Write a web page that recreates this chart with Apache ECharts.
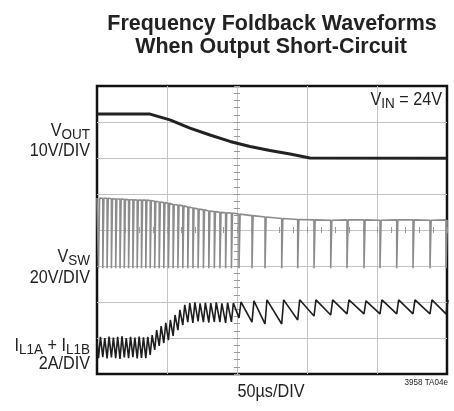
<!DOCTYPE html>
<html><head><meta charset="utf-8">
<script src="https://cdn.jsdelivr.net/npm/echarts@6/dist/echarts.min.js"></script>
<style>html,body{margin:0;padding:0;background:#fff}#c{width:454px;height:411px}</style>
</head><body><div id="c"></div>
<script>
// ---- Data (x in µs, 50 µs/div; y in screen divisions 0..8) ----
const vOutT = [0, 37.9, 52.1, 66.4, 80.7, 95, 109.3, 123.6, 137.9, 152.1, 250];
const vOutV = [7.22, 7.22, 7.06, 6.83, 6.64, 6.46, 6.32, 6.21, 6.11, 6.00, 5.99];

// switching pulse instants (µs)
const pulseTimes = [1.07, 4.14, 7.21, 10.29, 13.36, 16.43, 19.50, 22.57, 25.64, 28.71, 31.79, 34.86,
  38.0, 41.21, 44.43, 47.71, 51.0, 54.36, 57.79, 61.29, 64.86, 68.5, 72.21, 76.0, 79.86, 83.79, 87.79, 91.86, 96.0,
  101.43, 110.71, 120.0,
  131.93, 143.36, 155.0, 166.93, 178.57, 190.71, 202.14, 214.07, 225.71, 237.86, 249.29];
const vswTop = [4.89, 4.88, 4.88, 4.87, 4.86, 4.86, 4.85, 4.84, 4.84, 4.83, 4.83, 4.83,
  4.82, 4.80, 4.78, 4.76, 4.74, 4.71, 4.69, 4.67, 4.64, 4.61, 4.58, 4.56, 4.53, 4.51, 4.49, 4.48, 4.47,
  4.44, 4.40, 4.36,
  4.32, 4.29, 4.28, 4.27, 4.28, 4.28, 4.27, 4.28, 4.28, 4.27, 4.28];
const vswBottom = 2.94;
const ilStart = 0.9;
const ilTrough = [0.44, 0.47, 0.43, 0.46, 0.44, 0.42, 0.46, 0.44, 0.47, 0.43, 0.45, 0.44,
  0.53, 0.67, 0.78, 0.86, 0.94, 1.06, 1.22, 1.36,
  1.44, 1.42, 1.46, 1.44, 1.43, 1.45, 1.44, 1.42, 1.45,
  1.56, 1.44, 1.39,
  1.39, 1.50, 1.61, 1.64, 1.67, 1.67, 1.67, 1.67, 1.67, 1.67, 1.67];
const ilPeak = [1.03, 1.00, 1.04, 1.01, 1.03, 1.05, 1.00, 1.03, 1.01, 1.04, 1.02, 1.03,
  1.08, 1.22, 1.33, 1.42, 1.50, 1.64, 1.78, 1.92,
  1.97, 1.99, 1.96, 1.98, 1.97, 1.99, 1.96, 1.98, 1.97,
  2.00, 2.03, 2.06,
  2.06, 2.06, 2.06, 2.06, 2.06, 2.03, 2.06, 2.06, 2.06, 2.06, 2.06];

// ---- build series data ----
const VSW_W = 0.8, IL_RISE = 1.4;
const vOutData = vOutT.map((t, i) => [t, vOutV[i]]);
const vswData = [[0, vswTop[0]]];
pulseTimes.forEach((t, i) => {
  vswData.push([t, vswTop[i]], [t, vswBottom], [t + VSW_W, vswBottom], [t + VSW_W, vswTop[i]]);
});
vswData.push([250, vswTop[vswTop.length - 1]]);
const ilData = [[0, ilStart]];
pulseTimes.forEach((t, i) => { ilData.push([t, ilTrough[i]], [t + IL_RISE, ilPeak[i]]); });

const FF = '"Liberation Sans", Arial, sans-serif';
const TXT = '#222';
function lbl(x, y, text, rich, align, size, sx) {
  return { type: 'text', x: x, y: y, scaleX: sx, z: 10,
    style: { text: text, rich: rich, align: align, textAlign: align, verticalAlign: 'middle', textVerticalAlign: 'middle',
      fill: TXT, fontFamily: FF, fontSize: size } };
}
const sub = {
  m: { fontSize: 18, fontFamily: FF, lineHeight: 22, verticalAlign: 'middle', color: TXT },
  s: { fontSize: 15, fontFamily: FF, lineHeight: 14, verticalAlign: 'bottom', color: TXT }
};

const chart = echarts.init(document.getElementById('c'), null, { renderer: 'canvas' });
const hidden = { axisLine: { show: false, onZero: false }, axisLabel: { show: false }, splitLine: { show: false } };
const gridSplit = { show: true, showMinLine: false, showMaxLine: false, lineStyle: { color: '#c4c4c4', width: 1 } };
chart.setOption({
  animation: false,
  backgroundColor: '#fff',
  grid: { left: 97, top: 86, width: 350, height: 288, show: true, borderColor: '#111', borderWidth: 2.5 },
  xAxis: [
    { type: 'value', min: 0, max: 250, interval: 50, axisLine: { show: false, onZero: false }, axisTick: { show: false },
      axisLabel: { show: false }, splitLine: gridSplit },
    Object.assign({ type: 'value', min: 0, max: 250, interval: 10, position: 'bottom', offset: -144,
      axisTick: { show: true, inside: true, length: 3, lineStyle: { color: '#999' } } }, hidden),
    Object.assign({ type: 'value', min: 0, max: 250, interval: 10, position: 'bottom', offset: -144,
      axisTick: { show: true, inside: false, length: 3, lineStyle: { color: '#999' } } }, hidden)
  ],
  yAxis: [
    { type: 'value', min: 0, max: 8, interval: 1, axisLine: { show: false, onZero: false }, axisTick: { show: false },
      axisLabel: { show: false }, splitLine: gridSplit },
    Object.assign({ type: 'value', min: 0, max: 8, interval: 0.2, position: 'left', offset: -140,
      axisTick: { show: true, inside: true, length: 3, lineStyle: { color: '#999' } } }, hidden),
    Object.assign({ type: 'value', min: 0, max: 8, interval: 0.2, position: 'left', offset: -140,
      axisTick: { show: true, inside: false, length: 3, lineStyle: { color: '#999' } } }, hidden)
  ],
  series: [
    { type: 'line', name: 'VSW', data: vswData, xAxisIndex: 0, yAxisIndex: 0, showSymbol: false, symbol: 'none',
      lineStyle: { color: '#8c8c8c', width: 1.6 }, z: 3 },
    { type: 'line', name: 'IL', data: ilData, xAxisIndex: 0, yAxisIndex: 0, showSymbol: false, symbol: 'none',
      lineStyle: { color: '#1e1e1e', width: 1.6 }, z: 4 },
    { type: 'line', name: 'VOUT', data: vOutData, xAxisIndex: 0, yAxisIndex: 0, showSymbol: false, symbol: 'none',
      lineStyle: { color: '#222', width: 3 }, z: 5 }
  ],
  graphic: [
    { type: 'text', x: 272, y: 24, scaleX: 0.975, style: { text: 'Frequency Foldback Waveforms', align: 'center', textAlign: 'center',
      verticalAlign: 'middle', textVerticalAlign: 'middle', fill: TXT, fontFamily: FF, fontSize: 22, fontWeight: 'bold' } },
    { type: 'text', x: 271, y: 47, scaleX: 0.975, style: { text: 'When Output Short-Circuit', align: 'center', textAlign: 'center',
      verticalAlign: 'middle', textVerticalAlign: 'middle', fill: TXT, fontFamily: FF, fontSize: 22, fontWeight: 'bold' } },
    lbl(90, 131, '{m|V}{s|OUT}', sub, 'right', 18, 0.9),
    lbl(90, 151.5, '10V/DIV', null, 'right', 18, 0.9),
    lbl(90, 257, '{m|V}{s|SW}', sub, 'right', 18, 0.9),
    lbl(90, 278, '20V/DIV', null, 'right', 18, 0.9),
    lbl(90, 346, '{m|I}{s|L1A}{m| + I}{s|L1B}', sub, 'right', 18, 0.9),
    lbl(90, 364, '2A/DIV', null, 'right', 18, 0.9),
    lbl(442, 100, '{m|V}{s|IN}{m| = 24V}', sub, 'right', 18, 0.9),
    lbl(271, 392, '50µs/DIV', null, 'center', 18, 0.9),
    lbl(448, 383, '3958 TA04e', null, 'right', 9, 0.9)
  ]
});
</script></body></html>
